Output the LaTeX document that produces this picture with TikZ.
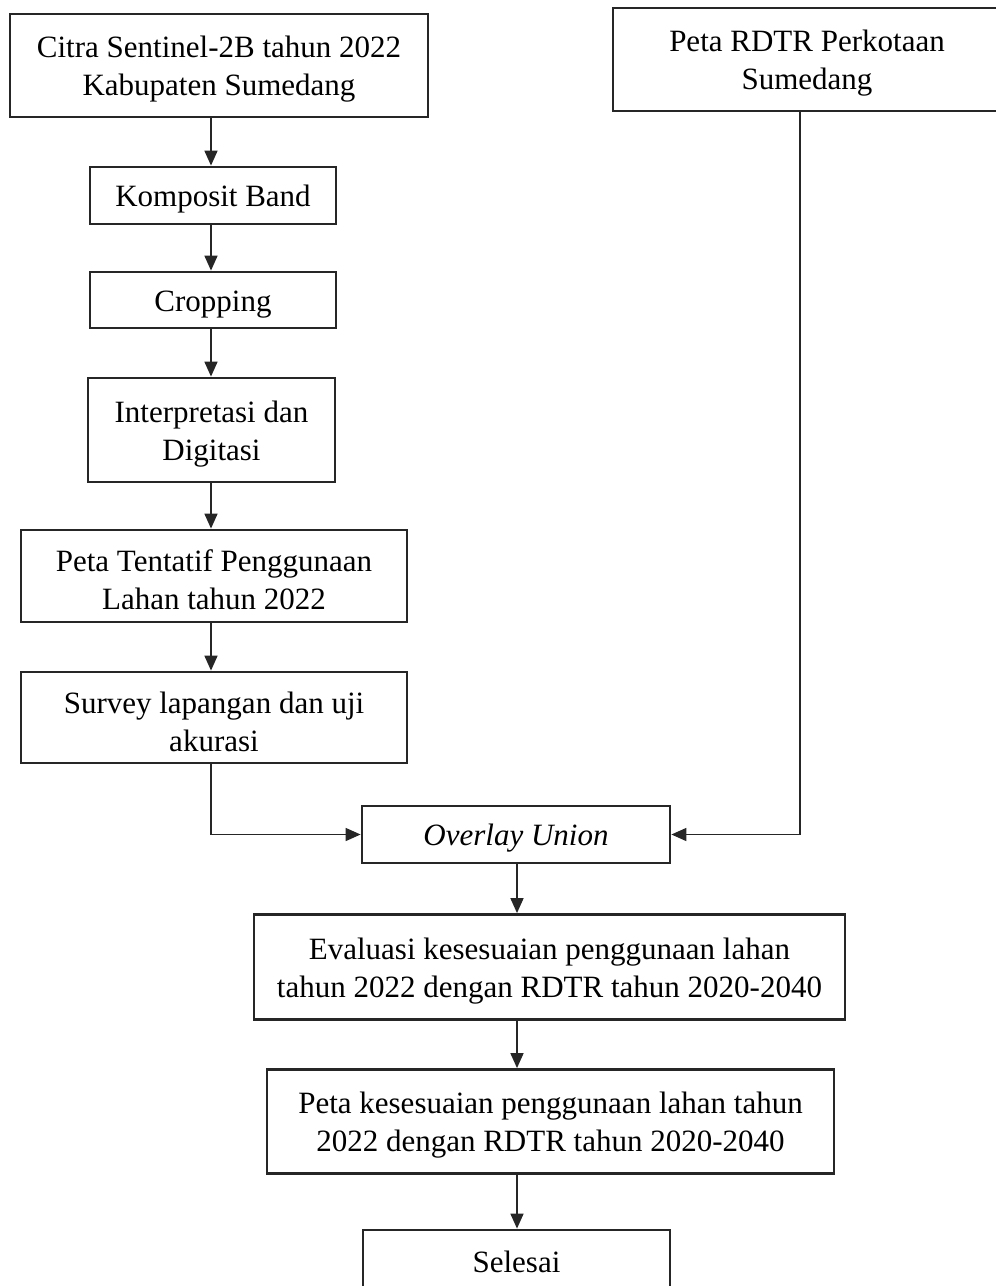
\documentclass[tikz,border=0pt]{standalone}
\usepackage{fontspec}
\setmainfont{Liberation Serif}
\usetikzlibrary{arrows.meta}

\begin{document}
\begin{tikzpicture}[x=1pt,y=-1pt,
  box/.style={draw=black!85, line width=2.8pt, rectangle, inner sep=0pt,
    align=center, font=\fontsize{31}{38}\selectfont},
  % struts that set the text a little below the middle of its box
  oneline/.style={box, execute at begin node={\rule{0pt}{29.5pt}}},
  twoline/.style={box, execute at begin node={\rule{0pt}{67.5pt}}},
  flow/.style={draw=black!85, line width=1.6pt,
    -{Triangle[length=15pt,width=13pt]}}]
\useasboundingbox (0,0) rectangle (996,1286);

% left column: image processing
\node[twoline, minimum width=418pt, minimum height=103pt] (citra) at (219,65.5)
  {Citra Sentinel-2B tahun 2022\\Kabupaten Sumedang};
\node[oneline, minimum width=246pt, minimum height=57pt] (komposit) at (213,195.5)
  {Komposit Band};
\node[oneline, minimum width=246pt, minimum height=56pt] (crop) at (213,300)
  {Cropping};
\node[twoline, minimum width=247pt, minimum height=104pt] (interp) at (211.5,430)
  {Interpretasi dan\\Digitasi};
\node[twoline, minimum width=386pt, minimum height=92pt] (tentatif) at (214,576)
  {Peta Tentatif Penggunaan\\Lahan tahun 2022};
\node[twoline, minimum width=386pt, minimum height=91pt] (survey) at (214,717.5)
  {Survey lapangan dan uji\\akurasi};

% right column: spatial plan map
\node[twoline, minimum width=388pt, minimum height=103pt] (rdtr) at (807,59.5)
  {Peta RDTR Perkotaan\\Sumedang};

% lower chain
\node[oneline, minimum width=308pt, minimum height=57pt] (overlay) at (516,834.5)
  {\itshape Overlay Union};
\node[twoline, minimum width=591pt, minimum height=105pt] (eval) at (549.5,967)
  {Evaluasi kesesuaian penggunaan lahan\\tahun 2022 dengan RDTR tahun 2020-2040};
\node[twoline, minimum width=567pt, minimum height=104pt] (petakes) at (550.5,1121.5)
  {Peta kesesuaian penggunaan lahan tahun\\2022 dengan RDTR tahun 2020-2040};
\node[box, minimum width=307pt, minimum height=64pt] (selesai) at (516.5,1262)
  {Selesai};

% connectors
\coordinate (lc) at (211,0);
\draw[flow] (citra.south -| lc) -- (komposit.north -| lc);
\draw[flow] (komposit.south -| lc) -- (crop.north -| lc);
\draw[flow] (crop.south -| lc) -- (interp.north -| lc);
\draw[flow] (interp.south -| lc) -- (tentatif.north -| lc);
\draw[flow] (tentatif.south -| lc) -- (survey.north -| lc);
\draw[flow] (survey.south -| lc) |- (overlay.west);
\coordinate (rc) at (800,0);
\draw[flow] (rdtr.south -| rc) |- (overlay.east);
\coordinate (mc) at (517,0);
\draw[flow] (overlay.south -| mc) -- (eval.north -| mc);
\draw[flow] (eval.south -| mc) -- (petakes.north -| mc);
\draw[flow] (petakes.south -| mc) -- (selesai.north -| mc);
\end{tikzpicture}
\end{document}
